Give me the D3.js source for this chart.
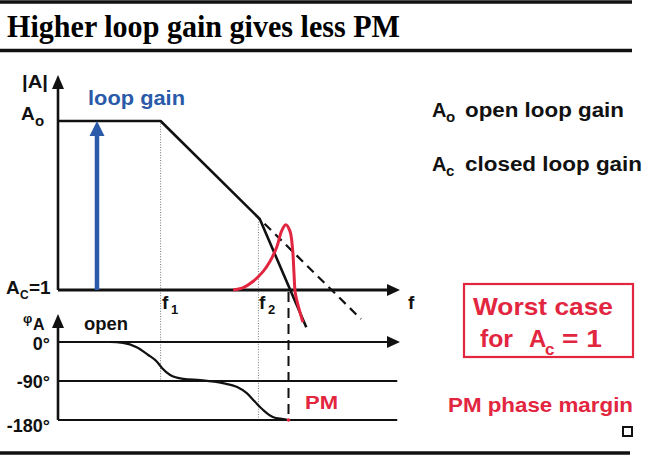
<!DOCTYPE html>
<html>
<head>
<meta charset="utf-8">
<script src="https://cdn.jsdelivr.net/npm/d3@7"></script>
<style>
  html, body { margin: 0; padding: 0; background: #fff; }
  svg { display: block; }
  text { font-family: "Liberation Sans", Arial, sans-serif; }
</style>
</head>
<body>
<div id="chart"></div>
<script>
// x = log10(f) in decades, magnitude in dB, phase in degrees

// magnitude (open loop, two poles)
const magFreq = [0, 1.5, 2.95, 3.63];
const magDb   = [50, 50, 21, -11];

// single-pole asymptote after f2 (dashed)
const asymFreq = [3.02, 4.43];
const asymDb   = [19.6, -8.6];

// closed loop peaking (red)
const peakFreq = [2.56, 2.7, 2.85, 3.0, 3.1, 3.2, 3.27, 3.33, 3.39, 3.43, 3.45, 3.47, 3.53, 3.58];
const peakDb   = [0, 0.6, 2.5, 5.5, 8.5, 12.8, 17.5, 19.3, 17.5, 12, 5, -1, -6, -9.5];

// open loop phase
const phaseFreq = [0, 0.76, 0.95, 1.15, 1.32, 1.45, 1.52, 1.64, 1.83, 2.08, 2.41, 2.62, 2.76, 2.88, 3.0, 3.14, 3.29, 3.36];
const phaseDeg  = [0, 0, -2, -12, -30, -46, -60, -76, -85, -88, -95, -104, -118, -138, -157, -173, -178, -180];

const f1 = 1.5, f2 = 2.95, fCross = 3.37, loopGainAt = 0.57;
const A0 = 50, AC = 0;
const phaseTicks = [0, -90, -180];
const phaseTickLabels = ["0°", "-90°", "-180°"];

const W = 647, H = 455;
const RED = "#e2263f", BLUE = "#2a5aa8";

const svg = d3.select("#chart").append("svg")
  .attr("width", W).attr("height", H);

// scales
const x    = d3.scaleLinear().domain([0, 5]).range([58, 400]);
const yMag = d3.scaleLinear().domain([0, 50]).range([290, 121]);
const yPh  = d3.scaleLinear().domain([-180, 0]).range([420, 342]);

const line = (xs, ys, yS) => d3.line().x(d => x(d[0])).y(d => yS(d[1]))(d3.zip(xs, ys));

// --- rules + title ---
[[2, 632], [50.5, 632], [453, 630]].forEach(([yy, x2]) =>
  svg.append("line").attr("x1", 0).attr("x2", x2).attr("y1", yy).attr("y2", yy)
    .attr("stroke", "#111").attr("stroke-width", 3.5));

svg.append("text")
  .attr("x", 7).attr("y", 37)
  .attr("font-weight", 700).attr("font-size", 31)
  .attr("textLength", 393).attr("lengthAdjust", "spacingAndGlyphs")
  .style("font-family", "'Liberation Serif', 'Times New Roman', serif")
  .text("Higher loop gain gives less PM");

// --- dotted guides at f1, f2 ---
const guide = (f, yTop, yBot) => svg.append("line")
  .attr("x1", x(f)).attr("x2", x(f)).attr("y1", yTop).attr("y2", yBot)
  .attr("stroke", "#777").attr("stroke-width", 1).attr("stroke-dasharray", "1,1.6");
guide(f1, yMag(A0), yPh(-90));
guide(f2 - 0.02, yMag(21), yPh(-180));

// --- phase grid lines ---
phaseTicks.forEach(p => svg.append("line")
  .attr("x1", x(0)).attr("x2", p === 0 ? x(5) - 8 : x(4.96))
  .attr("y1", yPh(p)).attr("y2", yPh(p))
  .attr("stroke", "#111").attr("stroke-width", p === 0 ? 2.2 : 1.8));

// --- axes with arrowheads ---
const arrowHead = (tx, ty, dir, len, half, fill) => {
  const pts = dir === "up"
    ? [[tx, ty], [tx - half, ty + len], [tx + half, ty + len]]
    : [[tx, ty], [tx - len, ty - half], [tx - len, ty + half]];
  svg.append("path").attr("d", "M" + pts.join("L") + "Z").attr("fill", fill);
};
// magnitude axes
svg.append("line").attr("x1", x(0)).attr("x2", x(0))
  .attr("y1", yMag(AC)).attr("y2", 86).attr("stroke", "#111").attr("stroke-width", 2.6);
arrowHead(x(0), 75, "up", 14, 6, "#111");
svg.append("line").attr("x1", x(0)).attr("x2", x(5) - 10)
  .attr("y1", yMag(AC)).attr("y2", yMag(AC)).attr("stroke", "#111").attr("stroke-width", 3.2);
arrowHead(x(5), yMag(AC), "right", 13, 6, "#111");
// phase axes
svg.append("line").attr("x1", x(0)).attr("x2", x(0))
  .attr("y1", yPh(-180)).attr("y2", 325).attr("stroke", "#111").attr("stroke-width", 2.6);
arrowHead(x(0), 314, "up", 14, 6, "#111");
arrowHead(x(5), yPh(0), "right", 13, 6, "#111");

// phase tick labels via d3 axis
const gPh = svg.append("g").attr("transform", `translate(${x(0)},0)`)
  .call(d3.axisLeft(yPh).tickValues(phaseTicks).tickSize(0).tickPadding(8)
    .tickFormat((d, i) => phaseTickLabels[i]));
gPh.select(".domain").remove();
gPh.selectAll("text")
  .attr("font-family", "'Liberation Sans', Arial, sans-serif")
  .attr("font-size", 18).attr("font-weight", 700).attr("fill", "#111")
  .attr("dy", (d) => d === -180 ? "0.62em" : d === 0 ? "0.4em" : "0.36em");

// --- magnitude curves ---
svg.append("path").attr("d", line(asymFreq, asymDb, yMag))
  .attr("fill", "none").attr("stroke", "#111").attr("stroke-width", 2.2)
  .attr("stroke-dasharray", "9,6");

svg.append("path").attr("d", line(magFreq, magDb, yMag))
  .attr("fill", "none").attr("stroke", "#111").attr("stroke-width", 2.6)
  .attr("stroke-linejoin", "round");

svg.append("path")
  .attr("d", d3.line().x(d => x(d[0])).y(d => yMag(d[1])).curve(d3.curveCatmullRom)(d3.zip(peakFreq, peakDb)))
  .attr("fill", "none").attr("stroke", RED).attr("stroke-width", 3);

// crossover dashed marker
svg.append("line").attr("x1", x(fCross)).attr("x2", x(fCross))
  .attr("y1", yMag(AC) + 2).attr("y2", yPh(-180))
  .attr("stroke", "#111").attr("stroke-width", 2).attr("stroke-dasharray", "10,6");

// --- phase curve ---
svg.append("path")
  .attr("d", d3.line().x(d => x(d[0])).y(d => yPh(d[1])).curve(d3.curveMonotoneX)(d3.zip(phaseFreq, phaseDeg)))
  .attr("fill", "none").attr("stroke", "#111").attr("stroke-width", 2.2);
svg.append("circle").attr("cx", x(fCross)).attr("cy", yPh(-180)).attr("r", 1.8).attr("fill", RED);

// --- loop gain arrow ---
svg.append("line").attr("x1", x(loopGainAt)).attr("x2", x(loopGainAt))
  .attr("y1", yMag(AC)).attr("y2", yMag(A0) + 12)
  .attr("stroke", BLUE).attr("stroke-width", 4.5);
arrowHead(x(loopGainAt), yMag(A0), "up", 15, 7.5, BLUE);

// --- labels ---
const label = (tx, ty, str, o = {}) => svg.append("text")
  .attr("x", tx).attr("y", ty)
  .attr("font-size", o.size || 18).attr("font-weight", o.weight || 700)
  .attr("fill", o.fill || "#111")
  .attr("text-anchor", o.anchor || "start")
  .call(t => { if (o.len) t.attr("textLength", o.len).attr("lengthAdjust", "spacingAndGlyphs"); })
  .text(str);

label(88, 105, "loop gain", { size: 21, fill: BLUE, len: 97 });
label(22, 88, "|A|", { size: 18, len: 26 });
label(21, 120, "A", { size: 19 });
label(35, 126, "o", { size: 15 });
label(6, 294, "A", { size: 19 });
label(20, 299, "C", { size: 12 });
label(29, 294, "=1", { size: 19 });
label(408, 309, "f", { size: 19 });
label(162, 309, "f", { size: 19 });
label(171, 314, "1", { size: 13 });
label(259, 309, "f", { size: 19 });
label(268, 314, "2", { size: 13 });
label(23, 323, "φ", { size: 13 });
label(33, 330, "A", { size: 16 });
label(84, 330, "open", { size: 19, len: 44 });
label(305, 409, "PM", { size: 19, fill: RED, len: 33 });

// right side legend
label(432, 117, "A", { size: 20 });
label(446, 122, "o", { size: 15 });
label(465, 117, "open loop gain", { size: 20, len: 159 });
label(432, 171, "A", { size: 20 });
label(446, 176, "c", { size: 15 });
label(465, 171, "closed loop gain", { size: 20, len: 177 });

svg.append("rect").attr("x", 464).attr("y", 284).attr("width", 169).attr("height", 73)
  .attr("fill", "none").attr("stroke", RED).attr("stroke-width", 2.2);
label(473, 315, "Worst case", { size: 24, fill: RED, len: 140 });
label(480, 347, "for", { size: 24, fill: RED, len: 33 });
label(529, 347, "A", { size: 24, fill: RED });
label(545, 355, "c", { size: 17, fill: RED });
label(562, 347, "= 1", { size: 24, fill: RED, len: 40 });

label(448, 412, "PM phase margin", { size: 21, fill: RED, len: 185 });
svg.append("rect").attr("x", 623).attr("y", 427).attr("width", 9).attr("height", 9)
  .attr("fill", "none").attr("stroke", "#111").attr("stroke-width", 2);
</script>
</body>
</html>
